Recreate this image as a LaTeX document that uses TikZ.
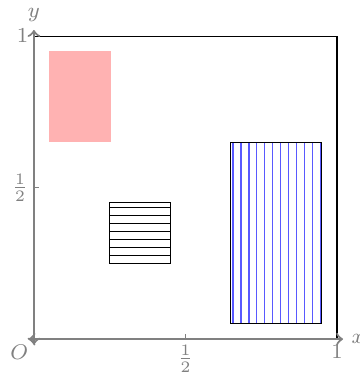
\documentclass[tikz,border=0pt]{standalone}
\usepackage{amsmath,amssymb}
\usepackage{tikz}
\usetikzlibrary{patterns}
\tikzset{
  axis/.style  ={draw=gray,thick,<->},
  tick/.style  ={draw=gray},
  lbl/.style   ={text=gray,font=\footnotesize,inner sep=2pt},
  frame/.style ={draw=black},
  pink/.style  ={fill=red!30},
  hlines/.style={draw=black,pattern=horizontal lines},
  vlines/.style={draw=black,pattern=vertical lines,pattern color=blue!65},
}

\begin{document}
\begin{tikzpicture}[x=4cm,y=4cm]
  \useasboundingbox (-0.112,-0.125) rectangle (1.073,1.119);
  \coordinate (O) at (0,0);
  \coordinate (xl) at (-0.018,0);
  \coordinate (xr) at (1.02,0);
  \coordinate (yb) at (0,-0.018);
  \coordinate (yt) at (0,1.02);
  \coordinate (xh) at (0.5,0);
  \coordinate (yh) at (0,0.5);
  \coordinate (X) at (1,0);
  \coordinate (Y) at (0,1);
  % unit square and the three sets
  \draw[frame] (O) rectangle (1,1);
  \fill[pink] (0.05,0.65) rectangle (0.255,0.95);
  \draw[hlines] (0.25,0.25) rectangle (0.45,0.45);
  \draw[vlines] (0.65,0.05) rectangle (0.95,0.65);
  % axes
  \draw[axis] (xl) -- (xr);
  \draw[axis] (yb) -- (yt);
  \draw[tick] (xh) -- ++(0,0.017);
  \draw[tick] (yh) -- ++(0.017,0);
  \node[lbl,right,inner sep=3pt] (xlab) at (xr) {$x$};
  \node[lbl,above,inner sep=3pt] (ylab) at (yt) {$y$};
  \node[lbl,below left] (olab) at (O) {$O$};
  \node[lbl,below] (xhlab) at (xh) {$\frac{1}{2}$};
  \node[lbl,below] (xonelab) at (X) {$1$};
  \node[lbl,left] (yhlab) at (yh) {$\frac{1}{2}$};
  \node[lbl,left] (yonelab) at (Y) {$1$};
\end{tikzpicture}
\end{document}
